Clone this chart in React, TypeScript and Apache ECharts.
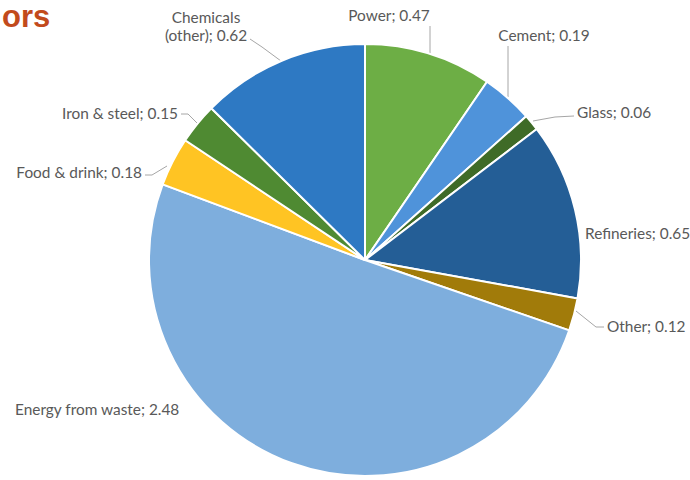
import React, { useEffect, useRef } from "react";
import * as echarts from "echarts";

// Sector shares, clockwise from 12 o'clock
const sectors = [
  "Power",
  "Cement",
  "Glass",
  "Refineries",
  "Other",
  "Energy from waste",
  "Food & drink",
  "Iron & steel",
  "Chemicals (other)",
];
const values = [0.47, 0.19, 0.06, 0.65, 0.12, 2.48, 0.18, 0.15, 0.62];
const sliceColors = [
  "#6DAE45",
  "#4F93DA",
  "#3F6B27",
  "#245E96",
  "#A17B0A",
  "#7EAEDD",
  "#FFC423",
  "#4F8A32",
  "#2E79C3",
];

type Spot = {
  x: number;
  y: number;
  align: "left" | "center" | "right";
  line: number[][] | null;
};

// Where each label sits, and its leader line
const labelSpots: Spot[] = [
  { x: 389, y: 15, align: "center", line: [[430, 54], [430, 26], [430, 26]] },
  { x: 544, y: 35, align: "center", line: [[508, 97], [508, 46], [508, 46]] },
  { x: 577, y: 112, align: "left", line: [[533, 121], [555, 117], [574, 116]] },
  { x: 585, y: 233, align: "left", line: null },
  { x: 607, y: 326, align: "left", line: [[576, 311], [596, 327], [604, 327]] },
  { x: 15, y: 409, align: "left", line: null },
  { x: 142, y: 172, align: "right", line: [[145, 175], [152, 175], [167, 166]] },
  { x: 178, y: 113, align: "right", line: [[181, 114], [188, 114], [197, 123]] },
  { x: 206, y: 26, align: "center", line: [[250, 39], [262, 47], [281, 61]] },
];

const labelText = (name: string, value: number) =>
  `${name.replace(" (", "\n(")}; ${value}`;

export default function App() {
  const ref = useRef<HTMLDivElement>(null);

  useEffect(() => {
    if (!ref.current) return;
    const chart = echarts.init(ref.current, undefined, { renderer: "svg" });

    const data = sectors.map((name, i) => ({
      name,
      value: values[i],
      itemStyle: { color: sliceColors[i] },
      labelLine: { show: labelSpots[i].line !== null },
    }));

    chart.setOption({
      animation: false,
      backgroundColor: "#ffffff",
      graphic: [
        {
          type: "text",
          left: 2,
          top: 1,
          style: {
            text: "ors",
            fill: "#C24A1C",
            font: "bold 31px 'Liberation Sans', Arial, sans-serif",
          },
        },
      ],
      series: [
        {
          type: "pie",
          center: [365, 260],
          radius: 216,
          startAngle: 90,
          clockwise: true,
          data,
          itemStyle: { borderColor: "#ffffff", borderWidth: 2 },
          label: {
            show: true,
            position: "outside",
            overflow: "none",
            formatter: (p: any) => labelText(p.name, p.value),
            color: "#595959",
            fontFamily: "Lato, 'Noto Sans', sans-serif",
            fontSize: 15.4,
            lineHeight: 18,
          },
          labelLine: {
            show: true,
            lineStyle: { color: "#A6A6A6", width: 1 },
          },
          labelLayout: (params: any) => {
            const s = labelSpots[params.dataIndex];
            const out: any = {
              x: s.x,
              y: s.y,
              align: s.align,
              verticalAlign: "middle",
            };
            if (s.line) out.labelLinePoints = s.line;
            return out;
          },
        },
      ],
    });

    return () => chart.dispose();
  }, []);

  return (
    <div
      ref={ref}
      style={{ position: "absolute", left: 0, top: 0, width: 690, height: 480 }}
    />
  );
}
